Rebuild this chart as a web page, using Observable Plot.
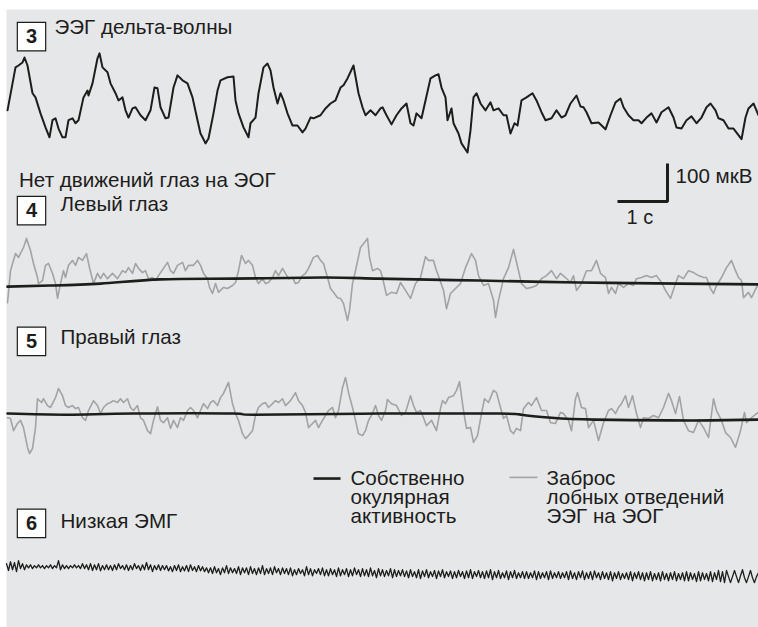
<!DOCTYPE html>
<html><head><meta charset="utf-8">
<script src="https://cdn.jsdelivr.net/npm/d3@7"></script>
<script src="https://cdn.jsdelivr.net/npm/@observablehq/plot@0.6"></script>
<style>
body{margin:0;background:#fff;}
#chart svg{display:block;}
</style></head><body><div id="chart"></div>
<script>
// ---- DATA: time in seconds, amplitude in µV relative to each channel's baseline ----
// 3: EEG delta waves
const eegDelta = [
[0.14,-13],[0.30,100],[0.36,105],[0.44,113],[0.48,126],[0.54,105],[0.64,32],[0.70,21],[0.80,-21],[0.90,-58],
[0.98,-84],[1.04,-39],[1.10,-34],[1.16,-61],[1.24,-84],[1.30,-84],[1.36,-39],[1.44,-34],[1.50,-47],[1.56,-39],
[1.66,21],[1.74,39],[1.76,26],[1.84,58],[1.94,124],[1.98,137],[2.04,100],[2.14,87],[2.20,58],[2.30,32],
[2.36,13],[2.44,21],[2.50,-13],[2.56,-32],[2.64,-8],[2.70,-5],[2.80,-26],[2.90,-39],[3.00,-13],[3.08,47],
[3.14,45],[3.20,-5],[3.30,-34],[3.36,-32],[3.46,47],[3.54,79],[3.64,66],[3.74,58],[3.84,21],[3.94,-39],
[4.00,-74],[4.04,-84],[4.10,-100],[4.16,-87],[4.26,-21],[4.34,39],[4.40,66],[4.54,74],[4.66,76],[4.70,13],
[4.76,-21],[4.86,-58],[4.96,-84],[5.00,-47],[5.10,-32],[5.16,32],[5.26,100],[5.34,110],[5.40,92],[5.46,47],
[5.54,5],[5.60,32],[5.66,13],[5.74,-21],[5.84,-53],[5.94,-53],[6.04,-71],[6.10,-61],[6.20,-32],[6.26,-34],
[6.40,-26],[6.50,-8],[6.60,5],[6.70,13],[6.80,47],[6.86,53],[6.94,71],[7.06,105],[7.16,32],[7.24,-5],
[7.30,-26],[7.40,-13],[7.50,-26],[7.60,-8],[7.64,-5],[7.72,-26],[7.82,-50],[7.92,-26],[8.02,-8],[8.12,5],
[8.20,-47],[8.26,-53],[8.32,-21],[8.42,-34],[8.50,13],[8.60,71],[8.70,79],[8.76,82],[8.82,47],[8.90,21],
[8.94,-39],[9.02,-8],[9.06,-47],[9.16,-74],[9.22,-100],[9.34,-124],[9.40,-66],[9.46,21],[9.52,32],[9.60,5],
[9.70,-13],[9.80,8],[9.86,-13],[9.96,-8],[10.06,-26],[10.12,-26],[10.20,-74],[10.28,-47],[10.34,-53],[10.42,13],
[10.52,21],[10.64,32],[10.72,13],[10.82,-18],[10.90,-39],[11.02,-34],[11.12,-13],[11.22,-32],[11.30,-26],[11.40,5],
[11.52,26],[11.60,-3],[11.66,-5],[11.72,-18],[11.82,-47],[11.96,-45],[12.10,-63],[12.20,-26],[12.30,8],[12.40,18],
[12.46,-5],[12.56,-26],[12.66,-39],[12.76,-39],[12.82,-47],[12.92,-32],[13.02,-21],[13.12,-45],[13.22,-18],[13.36,-5],
[13.46,-32],[13.52,-58],[13.62,-61],[13.72,-39],[13.82,-29],[13.92,-47],[14.02,-32],[14.12,-5],[14.20,5],[14.30,-13],
[14.36,-34],[14.46,-39],[14.56,-61],[14.66,-61],[14.82,-89],[14.90,-32],[14.96,-8],[15.06,5],[15.16,-26]
];
// 4: left eye — frontal EEG spill-over onto EOG (grey) and ocular activity proper (black)
const leftEyeSpill = [
[0.14,-45],[0.20,39],[0.30,84],[0.36,74],[0.46,100],[0.52,124],[0.60,92],[0.66,58],[0.74,21],[0.76,5],
[0.84,13],[0.90,53],[0.96,58],[1.04,32],[1.10,5],[1.14,-34],[1.20,5],[1.26,39],[1.30,21],[1.36,53],
[1.44,66],[1.50,53],[1.56,74],[1.64,66],[1.72,84],[1.78,47],[1.86,5],[1.94,32],[2.00,18],[2.06,32],
[2.14,18],[2.24,32],[2.34,18],[2.44,39],[2.50,34],[2.56,47],[2.64,32],[2.70,58],[2.76,45],[2.84,34],
[2.90,39],[2.96,18],[3.04,21],[3.10,13],[3.16,26],[3.26,45],[3.34,61],[3.40,39],[3.46,32],[3.54,53],
[3.64,61],[3.70,39],[3.76,53],[3.86,53],[3.94,66],[4.00,53],[4.06,32],[4.14,18],[4.18,-5],[4.24,-21],
[4.30,5],[4.36,-18],[4.46,-5],[4.54,-8],[4.64,0],[4.70,8],[4.76,39],[4.82,79],[4.90,58],[4.96,66],
[5.04,53],[5.10,21],[5.16,5],[5.24,18],[5.30,5],[5.36,8],[5.44,21],[5.50,39],[5.56,26],[5.64,45],
[5.70,32],[5.76,18],[5.84,21],[5.90,5],[5.96,8],[6.04,26],[6.10,32],[6.16,45],[6.26,74],[6.34,79],
[6.40,66],[6.46,58],[6.54,21],[6.60,-8],[6.66,-18],[6.74,-32],[6.80,-34],[6.86,-47],[6.94,-92],[6.98,-66],
[7.04,5],[7.10,39],[7.20,100],[7.26,110],[7.34,124],[7.38,74],[7.44,39],[7.54,45],[7.60,39],[7.64,21],
[7.72,-26],[7.82,-18],[7.92,-21],[8.00,8],[8.10,-13],[8.20,-34],[8.30,5],[8.40,21],[8.50,76],[8.56,66],
[8.66,66],[8.72,39],[8.78,18],[8.86,-13],[8.92,-61],[9.00,-21],[9.10,-8],[9.20,5],[9.30,47],[9.42,84],
[9.50,66],[9.56,26],[9.66,0],[9.76,5],[9.86,-39],[9.90,-84],[9.96,-39],[10.06,18],[10.16,47],[10.26,95],
[10.36,39],[10.42,5],[10.52,-8],[10.62,-5],[10.72,0],[10.82,18],[10.92,26],[11.02,39],[11.12,18],[11.20,32],
[11.30,21],[11.40,8],[11.46,26],[11.52,-13],[11.62,5],[11.72,39],[11.82,39],[11.92,66],[12.00,32],[12.10,21],
[12.16,-21],[12.22,-5],[12.30,-21],[12.36,5],[12.46,-5],[12.56,5],[12.66,0],[12.72,18],[12.82,21],[12.92,26],
[13.02,21],[13.12,26],[13.22,8],[13.30,-13],[13.40,-34],[13.50,5],[13.56,26],[13.66,18],[13.76,39],[13.86,34],
[13.96,26],[14.06,21],[14.12,21],[14.20,-8],[14.26,-21],[14.32,0],[14.42,21],[14.52,47],[14.62,66],[14.70,39],
[14.76,21],[14.82,13],[14.86,-32],[14.96,-18],[15.02,-32],[15.12,-5],[15.16,5]
];
const leftEyeOcular = [
[0.14,-3],[1.00,0],[2.00,5],[3.20,16],[4.66,18],[6.46,21],[7.56,18],[9.56,13],[11.56,8],[13.56,5],[15.16,3]
];
// 5: right eye
const rightEyeSpill = [
[0.14,-11],[0.20,-13],[0.26,-45],[0.34,-26],[0.40,-18],[0.46,-37],[0.54,-89],[0.58,-105],[0.64,-92],[0.70,-37],
[0.74,39],[0.82,29],[0.86,39],[0.94,21],[1.00,16],[1.10,42],[1.16,66],[1.24,47],[1.30,21],[1.36,16],
[1.44,21],[1.50,13],[1.56,16],[1.64,-11],[1.70,-18],[1.76,8],[1.86,34],[1.94,21],[2.00,0],[2.06,16],
[2.14,26],[2.20,29],[2.26,34],[2.34,29],[2.40,39],[2.46,29],[2.54,39],[2.60,16],[2.66,8],[2.74,21],
[2.80,-11],[2.86,-18],[2.94,-45],[3.00,-53],[3.06,-18],[3.14,18],[3.20,-18],[3.26,-24],[3.34,-11],[3.40,-39],
[3.46,-18],[3.54,-37],[3.60,-11],[3.66,-18],[3.74,8],[3.80,16],[3.86,8],[3.94,-11],[4.00,8],[4.06,26],
[4.14,13],[4.20,29],[4.26,34],[4.34,21],[4.40,42],[4.46,53],[4.56,82],[4.64,26],[4.70,0],[4.76,-18],
[4.84,-53],[4.90,-66],[4.96,-58],[5.04,-45],[5.10,-5],[5.16,16],[5.24,26],[5.30,29],[5.36,16],[5.44,26],
[5.50,34],[5.56,29],[5.64,39],[5.70,21],[5.80,34],[5.90,55],[5.96,34],[6.04,21],[6.10,3],[6.16,-37],
[6.24,-26],[6.30,-18],[6.36,-37],[6.44,-18],[6.50,-5],[6.56,8],[6.64,16],[6.70,-11],[6.76,8],[6.84,68],
[6.90,95],[6.96,55],[7.04,16],[7.10,-18],[7.16,-53],[7.24,-58],[7.30,-45],[7.36,-18],[7.44,0],[7.50,21],
[7.56,-5],[7.62,-18],[7.70,8],[7.74,37],[7.82,26],[7.92,21],[8.02,-5],[8.10,3],[8.20,47],[8.26,21],
[8.32,3],[8.40,8],[8.46,-11],[8.52,-32],[8.62,-18],[8.72,-45],[8.80,13],[8.84,34],[8.90,26],[8.96,42],
[9.06,47],[9.12,61],[9.18,84],[9.26,8],[9.32,-39],[9.40,-37],[9.46,-76],[9.54,-58],[9.62,0],[9.68,39],
[9.76,29],[9.86,61],[9.92,55],[10.00,16],[10.06,-13],[10.12,-5],[10.20,-45],[10.26,-53],[10.32,-39],[10.40,-45],
[10.46,13],[10.56,29],[10.62,21],[10.72,42],[10.82,8],[10.92,8],[11.00,-24],[11.10,-26],[11.20,3],[11.26,0],
[11.36,-18],[11.42,-45],[11.50,39],[11.54,55],[11.62,16],[11.70,13],[11.76,-37],[11.86,-18],[11.96,-71],[12.06,-24],
[12.16,8],[12.22,13],[12.30,0],[12.36,16],[12.42,26],[12.50,47],[12.56,16],[12.64,47],[12.72,0],[12.80,-37],
[12.86,-11],[12.96,-13],[13.06,-5],[13.16,-11],[13.26,16],[13.36,53],[13.42,34],[13.50,0],[13.58,45],[13.66,-18],
[13.76,-45],[13.86,-50],[13.96,-18],[14.06,-37],[14.16,-63],[14.26,39],[14.32,8],[14.42,-18],[14.50,-50],[14.60,-63],
[14.70,-89],[14.80,-45],[14.88,3],[14.92,-24],[15.02,-11],[15.12,0],[15.16,3]
];
const rightEyeOcular = [
[0.14,0],[1.34,-3],[2.66,0],[4.66,0],[5.06,-3],[7.60,0],[9.96,0],[10.42,-3],[11.02,-11],[11.90,-16],[13.36,-18],[14.22,-18],[15.16,-16]
];
// 6: low EMG, sampled every 0.04 s from 0.12 s (µV)
const emgStart = 0.12, emgStep = 0.04;
const emgLow = [
8,-10,13,-8,11,-13,16,-5,8,-8,5,-3,5,-5,3,-3,5,-3,3,-5,
3,-3,5,-5,3,-3,16,-8,5,-5,3,-5,3,-3,5,-3,3,-5,8,-5,
5,-8,8,-10,5,-8,8,-11,3,-8,5,-8,3,-10,5,-8,8,-5,3,-8,
5,-10,3,-8,8,-5,3,-10,5,-8,11,-8,5,-13,3,-8,5,-10,3,-8,
3,-11,0,-13,3,-10,5,-13,0,-11,3,-13,5,-10,0,-13,3,-11,0,-13,
-3,-16,-3,-18,0,-16,-5,-21,-3,-16,3,-18,-3,-16,-5,-18,0,-21,-3,-16,
-3,-21,0,-18,-5,-21,-3,-18,3,-21,-5,-18,-3,-21,0,-16,-5,-21,-3,-18,
-5,-21,-3,-24,-8,-21,-5,-18,-8,-24,0,-21,-5,-24,-8,-18,-5,-21,-3,-24,
-8,-24,-5,-21,-8,-26,-3,-24,-8,-21,-5,-26,-8,-24,-3,-21,-8,-26,-5,-24,
-8,-26,-3,-24,-10,-29,-5,-24,-8,-26,-10,-24,-5,-29,-8,-26,-10,-24,-8,-26,
-11,-29,-8,-26,-13,-29,-8,-31,-11,-26,-8,-29,-13,-26,-10,-31,-11,-26,-8,-29,
-13,-26,-11,-31,-13,-29,-10,-26,-13,-31,-11,-29,-8,-31,-13,-26,-10,-29,-13,-31,
-11,-29,-8,-34,-13,-29,-10,-31,-16,-29,-11,-34,-13,-29,-10,-31,-16,-29,-13,-31,
-13,-31,-16,-29,-11,-34,-13,-31,-16,-29,-13,-34,-11,-31,-16,-29,-13,-31,-16,-29,
-13,-34,-11,-31,-16,-34,-13,-29,-11,-34,-16,-31,-13,-34,-11,-29,-16,-34,-13,-31,
-16,-34,-13,-37,-16,-31,-13,-34,-18,-31,-16,-34,-13,-37,-16,-31,-13,-34,-16,-37,
-16,-34,-13,-37,-18,-34,-16,-37,-13,-34,-18,-37,-16,-34,-13,-37,-18,-34,-16,-37,
-13,-37,-16,-34,-18,-39,-13,-37,-16,-34,-18,-37,-13,-39,-16,-34,-10,-39,-13,-42,
-10,-26,-42,-26,-10,-26,-42,-24,-8,-29,-42,-26,-10,-29,-42,-26,-16
];
// channel baselines (µV on the page's vertical µV axis)
const baseline = {eeg: -276, left: -750, right: -1087, emg: -1490};

// ---- LAYOUT (annotations, in the same s / µV units) ----
const panels = [
  {num: "3", t: 0.62, v: -95},
  {num: "4", t: 0.62, v: -553},
  {num: "5", t: 0.62, v: -897},
  {num: "6", t: 0.62, v: -1376}
];
const titles = [
  {text: "ЭЭГ дельта-волны", t: 1.08, v: -87},
  {text: "Нет движений глаз на ЭОГ", t: 0.37, v: -492},
  {text: "Левый глаз", t: 1.2, v: -553},
  {text: "Правый глаз", t: 1.2, v: -903},
  {text: "Низкая ЭМГ", t: 1.2, v: -1387}
];
const scaleBar = {t: 13.34, v: -529, seconds: 1, microvolts: 100};
const legendItems = [
  {label: "Собственно\nокулярная\nактивность", color: "#1d1d1b", width: 2.6, t1: 6.26, t2: 6.8, v: -1258, tText: 7.0, vText: -1376},
  {label: "Заброс\nлобных отведений\nЭЭГ на ЭОГ", color: "#a3a3a3", width: 1.6, t1: 10.18, t2: 10.74, v: -1255, tText: 10.92, vText: -1376}
];

const ink = "#1d1d1b", grey = "#a3a3a3";
const line = (data, base, opts) => Plot.line(data, {x: d => d[0], y: d => d[1] + base, ...opts});

const chart = Plot.plot({
  width: 758, height: 627,
  marginLeft: 6, marginTop: 9, marginRight: 0, marginBottom: 0,
  x: {domain: [0.12, 15.16], axis: null},
  y: {domain: [-1650, -23.68], axis: null},
  style: {fontFamily: "'Liberation Sans', Arial, sans-serif", background: "transparent", overflow: "visible"},
  marks: [
    Plot.frame({fill: "#e6e7e9", stroke: "none"}),
    line(eegDelta, baseline.eeg, {stroke: ink, strokeWidth: 2}),
    line(leftEyeSpill, baseline.left, {stroke: grey, strokeWidth: 1.6}),
    line(leftEyeOcular, baseline.left, {stroke: ink, strokeWidth: 2.6, curve: "natural"}),
    line(rightEyeSpill, baseline.right, {stroke: grey, strokeWidth: 1.6}),
    line(rightEyeOcular, baseline.right, {stroke: ink, strokeWidth: 2.6, curve: "natural"}),
    Plot.line(emgLow, {x: (d, i) => emgStart + i * emgStep, y: d => d + baseline.emg, stroke: ink, strokeWidth: 1.3}),
    // scale bar: 1 s horizontal, 100 µV vertical
    Plot.line([
      [scaleBar.t - scaleBar.seconds, scaleBar.v],
      [scaleBar.t, scaleBar.v],
      [scaleBar.t, scaleBar.v + scaleBar.microvolts]
    ], {x: d => d[0], y: d => d[1], stroke: ink, strokeWidth: 3, strokeLinejoin: "miter", strokeLinecap: "butt"}),
    Plot.text([scaleBar], {x: d => d.t + 0.16, y: d => d.v + 50, text: d => `${d.microvolts} мкВ`, textAnchor: "start", lineAnchor: "bottom", fontSize: 20.6, fill: ink}),
    Plot.text([scaleBar], {x: d => d.t - 0.82, y: d => d.v - 58, text: d => `${d.seconds} с`, textAnchor: "start", lineAnchor: "bottom", fontSize: 20, fill: ink}),
    // panel number boxes
    Plot.dot(panels, {x: "t", y: "v", symbol: "square", r: 16, fill: "white", stroke: ink, strokeWidth: 1.2}),
    Plot.text(panels, {x: "t", y: "v", text: "num", fontSize: 20, fontWeight: "bold", fill: ink, lineAnchor: "middle"}),
    Plot.text(titles, {x: "t", y: "v", text: "text", textAnchor: "start", lineAnchor: "bottom", fontSize: 20.6, fill: ink}),
    // legend
    Plot.link(legendItems, {x1: "t1", x2: "t2", y1: "v", y2: "v", stroke: "color", strokeWidth: "width"}),
    Plot.text(legendItems, {x: "tText", y: "vText", text: "label", textAnchor: "start", lineAnchor: "bottom", lineHeight: 0.93, fontSize: 20.6, fill: ink})
  ]
});
document.getElementById("chart").append(chart);
</script>
</body></html>
